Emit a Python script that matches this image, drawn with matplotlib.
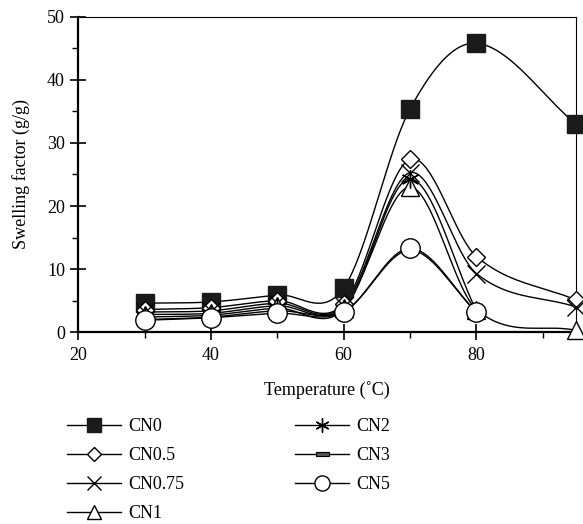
import numpy as np
import matplotlib.pyplot as plt
from matplotlib.path import Path

# Data
temps_long = [30, 40, 50, 60, 70, 80, 95]
temps_short = [30, 40, 50, 60, 70, 80]

cn0 = [4.6, 4.8, 5.9, 7.0, 35.4, 45.8, 33.0]
cn05 = [3.6, 3.9, 5.0, 4.5, 27.4, 12.0, 5.1]
cn075 = [3.2, 3.4, 4.6, 4.2, 25.3, 9.3, 4.0]
cn1 = [2.8, 3.0, 4.2, 3.9, 23.0, 3.6, 0.3]
cn2 = [2.4, 2.7, 3.8, 3.6, 24.3, 3.4]
cn3 = [2.0, 2.4, 3.4, 3.3, 13.0, 3.2]
cn5 = [1.9, 2.3, 3.0, 3.2, 13.3, 3.2]

labels = ['CN0', 'CN0.5', 'CN0.75', 'CN1', 'CN2', 'CN3', 'CN5']


def smooth(x, y, n=40):
    # Catmull-Rom style cubic Hermite curve through the points (drawing only)
    x = np.asarray(x, float)
    y = np.asarray(y, float)
    m = np.empty_like(y)
    m[1:-1] = (y[2:] - y[:-2]) / (x[2:] - x[:-2])
    m[0] = (y[1] - y[0]) / (x[1] - x[0])
    m[-1] = (y[-1] - y[-2]) / (x[-1] - x[-2])
    xs_all, ys_all = [], []
    for i in range(len(x) - 1):
        h = x[i + 1] - x[i]
        t = np.linspace(0, 1, n)
        h00 = 2 * t ** 3 - 3 * t ** 2 + 1
        h10 = t ** 3 - 2 * t ** 2 + t
        h01 = -2 * t ** 3 + 3 * t ** 2
        h11 = t ** 3 - t ** 2
        xs_all.append(x[i] + t * h)
        ys_all.append(h00 * y[i] + h10 * h * m[i] + h01 * y[i + 1] + h11 * h * m[i + 1])
    return np.concatenate(xs_all), np.concatenate(ys_all)


plt.rcParams['font.family'] = 'Liberation Serif'
plt.rcParams['font.size'] = 13

fig = plt.figure(figsize=(5.83, 5.24), dpi=100)
ax = fig.add_axes([0.134, 0.366, 0.854, 0.602])

bar = Path([(-1, -0.28), (1, -0.28), (1, 0.28), (-1, 0.28), (-1, -0.28)],
           [Path.MOVETO, Path.LINETO, Path.LINETO, Path.LINETO, Path.CLOSEPOLY])

series = [
    (temps_long, cn0, dict(marker='s', ms=13, mfc='#1a1a1a', mec='#1a1a1a')),
    (temps_long, cn05, dict(marker='D', ms=9, mfc='white', mec='black', mew=1)),
    (temps_long, cn075, dict(marker='x', ms=13, mec='black', mew=1)),
    (temps_long, cn1, dict(marker='^', ms=13, mfc='white', mec='black', mew=1)),
    (temps_short, cn2, dict(marker=(6, 2, 0), ms=13, mec='black', mew=1)),
    (temps_short, cn3, dict(marker=bar, ms=12, mfc='#555555', mec='black', mew=0.8)),
    (temps_short, cn5, dict(marker='o', ms=14, mfc='white', mec='black', mew=1)),
]

handles = []
for (xv, yv, style), lab in zip(series, labels):
    xs, ys = smooth(xv, yv)
    ax.plot(xs, ys, color='black', lw=1.0)
    ax.plot(xv, yv, ls='none', clip_on=False, zorder=3, **style)
    h, = ax.plot([], [], color='black', lw=1.0, label=lab, **style)
    handles.append(h)

ax.set_xlim(20, 95)
ax.set_ylim(0, 50)
ax.set_xticks([20, 40, 60, 80])
ax.set_xticks([30, 50, 70, 90], minor=True)
ax.set_yticks([0, 10, 20, 30, 40, 50])
ax.set_yticks([5, 15, 25, 35, 45], minor=True)
ax.tick_params(which='major', direction='inout', length=12, width=1.2, color='black')
ax.tick_params(which='minor', direction='out', length=4.5, width=1.0)
ax.tick_params(axis='x', which='major', pad=5)
ax.spines['left'].set_linewidth(1.6)
ax.spines['bottom'].set_linewidth(1.6)
ax.spines['top'].set_linewidth(0.8)
ax.spines['right'].set_linewidth(0.8)

ax.set_xlabel('Temperature (\u02daC)', labelpad=12)
ax.set_ylabel('Swelling factor (g/g)', labelpad=12)

fig.legend(handles=handles, ncol=2, loc='upper left', bbox_to_anchor=(0.115, 0.202),
           frameon=False, handlelength=3.0, handletextpad=0.4, columnspacing=6.1,
           labelspacing=0.66, borderpad=0, borderaxespad=0, markerscale=0.78)

fig.savefig('out.png', dpi=100)
